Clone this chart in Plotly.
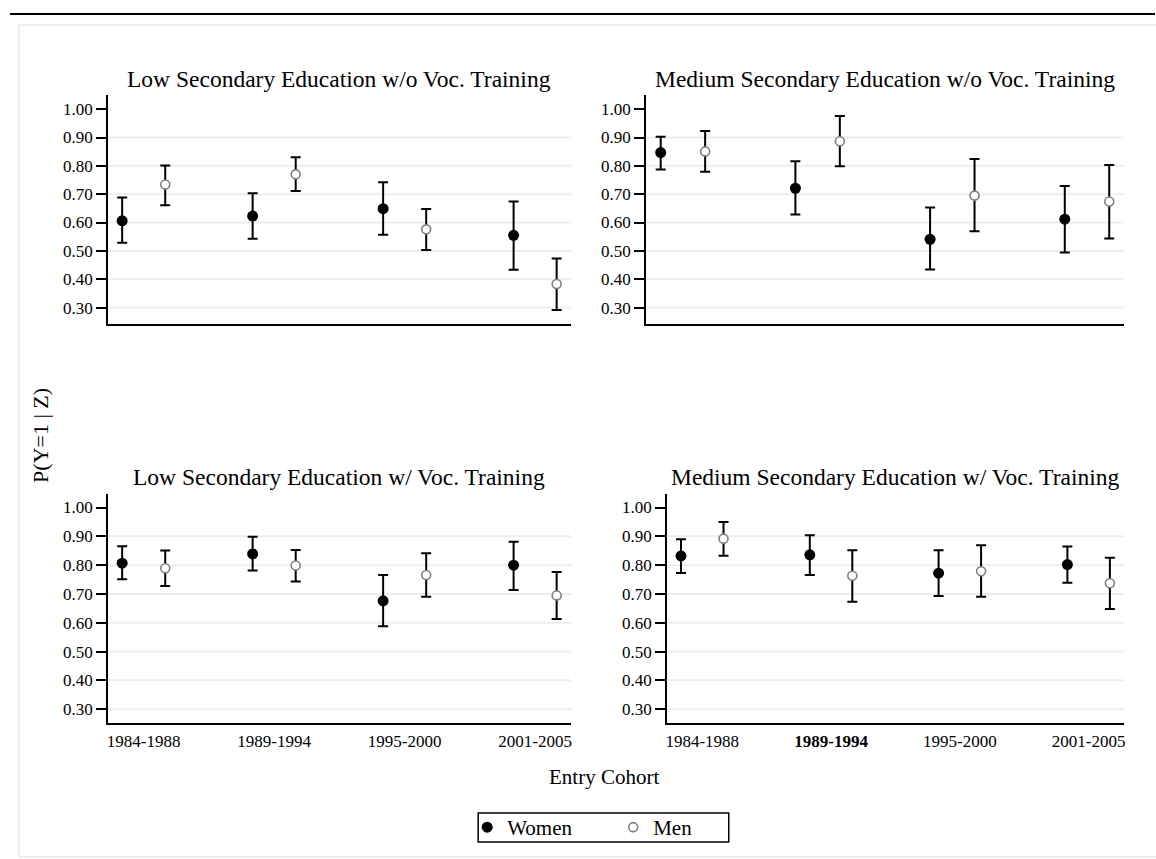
import plotly.graph_objects as go

# ---------------- data ----------------
cohorts = ["1984-1988", "1989-1994", "1995-2000", "2001-2005"]
panel_titles = [
    "Low Secondary Education w/o Voc. Training",
    "Medium Secondary Education w/o Voc. Training",
    "Low Secondary Education w/ Voc. Training",
    "Medium Secondary Education w/ Voc. Training",
]
y_ticks = [0.30, 0.40, 0.50, 0.60, 0.70, 0.80, 0.90, 1.00]
grid_vals = [0.30, 0.40, 0.50, 0.60, 0.70, 0.80, 0.90]

# panel 1: Low secondary w/o voc. training
women_est_1 = [0.606, 0.623, 0.649, 0.555]
women_lo_1 = [0.529, 0.543, 0.557, 0.433]
women_hi_1 = [0.688, 0.703, 0.742, 0.674]
men_est_1 = [0.734, 0.770, 0.576, 0.383]
men_lo_1 = [0.661, 0.711, 0.503, 0.291]
men_hi_1 = [0.801, 0.830, 0.648, 0.473]

# panel 2: Medium secondary w/o voc. training
women_est_2 = [0.847, 0.721, 0.541, 0.612]
women_lo_2 = [0.787, 0.628, 0.434, 0.494]
women_hi_2 = [0.903, 0.816, 0.653, 0.729]
men_est_2 = [0.851, 0.887, 0.695, 0.674]
men_lo_2 = [0.779, 0.799, 0.569, 0.544]
men_hi_2 = [0.923, 0.976, 0.824, 0.803]

# panel 3: Low secondary w/ voc. training
women_est_3 = [0.807, 0.839, 0.676, 0.800]
women_lo_3 = [0.751, 0.781, 0.588, 0.714]
women_hi_3 = [0.866, 0.899, 0.766, 0.881]
men_est_3 = [0.789, 0.799, 0.766, 0.695]
men_lo_3 = [0.728, 0.743, 0.690, 0.613]
men_hi_3 = [0.851, 0.853, 0.841, 0.776]

# panel 4: Medium secondary w/ voc. training
women_est_4 = [0.832, 0.836, 0.772, 0.802]
women_lo_4 = [0.773, 0.766, 0.693, 0.739]
women_hi_4 = [0.890, 0.904, 0.852, 0.865]
men_est_4 = [0.892, 0.763, 0.779, 0.737]
men_lo_4 = [0.833, 0.673, 0.690, 0.648]
men_hi_4 = [0.950, 0.852, 0.869, 0.826]

panels = [
    (women_est_1, women_lo_1, women_hi_1, men_est_1, men_lo_1, men_hi_1),
    (women_est_2, women_lo_2, women_hi_2, men_est_2, men_lo_2, men_hi_2),
    (women_est_3, women_lo_3, women_hi_3, men_est_3, men_lo_3, men_hi_3),
    (women_est_4, women_lo_4, women_hi_4, men_est_4, men_lo_4, men_hi_4),
]

# ---------------- layout geometry ----------------
W, H = 1156, 859
FONT = "Liberation Serif"


def px_x(a, b):
    return [a / W, b / W]


def px_y(top, bottom):
    return [1 - bottom / H, 1 - top / H]


x_domains = [px_x(107, 571), px_x(646, 1125), px_x(107, 571), px_x(667, 1125)]
y_domains = [px_y(95, 324), px_y(95, 324), px_y(494, 723), px_y(494, 723)]
y_ranges = [[0.242, 1.05], [0.242, 1.05], [0.252, 1.047], [0.252, 1.047]]
title_y = [79, 79, 477, 477]
offset = 0.165

fig = go.Figure()
layout = {}
shapes = []
annotations = []

for k in range(4):
    n = k + 1
    xs = "x" if n == 1 else f"x{n}"
    ys = "y" if n == 1 else f"y{n}"
    w_est, w_lo, w_hi, m_est, m_lo, m_hi = panels[k]
    pos = list(range(len(cohorts)))

    fig.add_trace(go.Scatter(
        x=[p - offset for p in pos], y=w_est, mode="markers", name="Women",
        showlegend=(k == 0), legendrank=1,
        marker=dict(symbol="circle", size=11, color="black"),
        error_y=dict(type="data", symmetric=False,
                     array=[h - e for h, e in zip(w_hi, w_est)],
                     arrayminus=[e - l for e, l in zip(w_est, w_lo)],
                     color="black", thickness=2, width=5),
        xaxis=xs, yaxis=ys, cliponaxis=False,
    ))
    fig.add_trace(go.Scatter(
        x=[p + offset for p in pos], y=m_est, mode="markers", name="Men",
        showlegend=(k == 0), legendrank=2,
        marker=dict(symbol="circle", size=9, color="white",
                    line=dict(color="#808080", width=1.6)),
        error_y=dict(type="data", symmetric=False,
                     array=[h - e for h, e in zip(m_hi, m_est)],
                     arrayminus=[e - l for e, l in zip(m_est, m_lo)],
                     color="black", thickness=2, width=5),
        xaxis=xs, yaxis=ys, cliponaxis=False,
    ))

    bottom = k >= 2
    ticktext = list(cohorts)
    if k == 3:
        ticktext[1] = "<b>" + cohorts[1] + "</b>"
    layout["xaxis" if n == 1 else f"xaxis{n}"] = dict(
        domain=x_domains[k], range=[-0.275, len(cohorts) - 1 + 0.275],
        anchor=ys, showgrid=False, zeroline=False,
        showline=True, linecolor="black", linewidth=1.5,
        tickmode="array", tickvals=pos, ticktext=ticktext,
        showticklabels=bottom, ticks="outside", ticklen=2,
        tickcolor="rgba(0,0,0,0)",
        tickfont=dict(family=FONT, size=17, color="black"),
        fixedrange=True,
    )
    layout["yaxis" if n == 1 else f"yaxis{n}"] = dict(
        domain=y_domains[k], range=y_ranges[k], anchor=xs,
        showgrid=False, zeroline=False,
        showline=True, linecolor="black", linewidth=1.5,
        tickmode="array", tickvals=y_ticks,
        ticktext=[f"{v:.2f}" for v in y_ticks],
        ticks="outside", ticklen=10, tickwidth=1.5, tickcolor="black",
        tickfont=dict(family=FONT, size=17, color="black"),
        fixedrange=True,
    )
    for v in grid_vals:
        shapes.append(dict(type="line", xref=f"{xs} domain", yref=ys,
                           x0=0, x1=1, y0=v, y1=v, layer="below",
                           line=dict(color="#e8eff1", width=2)))
    annotations.append(dict(
        text=panel_titles[k], xref="paper", yref="paper",
        x=(x_domains[k][0] + x_domains[k][1]) / 2, y=1 - title_y[k] / H,
        xanchor="center", yanchor="middle", showarrow=False,
        font=dict(family=FONT, size=23.5, color="black"),
    ))

# shared axis titles
annotations.append(dict(
    text="P(Y=1 | Z)", xref="paper", yref="paper", x=39 / W, y=1 - 435 / H,
    textangle=-90, xanchor="center", yanchor="middle", showarrow=False,
    font=dict(family=FONT, size=22, color="black"),
))
annotations.append(dict(
    text="Entry Cohort", xref="paper", yref="paper", x=604 / W, y=1 - 777 / H,
    xanchor="center", yanchor="middle", showarrow=False,
    font=dict(family=FONT, size=21, color="black"),
))

# outer frame (light) and black rule at the top
shapes.append(dict(type="rect", xref="paper", yref="paper",
                   x0=18 / W, x1=1.05, y0=1 - 857 / H, y1=1 - 25 / H,
                   layer="below", line=dict(color="#e4ecee", width=1.5)))
shapes.append(dict(type="line", xref="paper", yref="paper",
                   x0=9 / W, x1=1.0, y0=1 - 14 / H, y1=1 - 14 / H,
                   line=dict(color="black", width=2.2)))
# legend box
shapes.append(dict(type="rect", xref="paper", yref="paper",
                   x0=478 / W, x1=729 / W, y0=1 - 842 / H, y1=1 - 813 / H,
                   line=dict(color="black", width=1.5)))

fig.update_layout(
    width=W, height=H,
    margin=dict(l=0, r=0, t=0, b=0),
    paper_bgcolor="white", plot_bgcolor="white",
    font=dict(family=FONT, color="black"),
    showlegend=True,
    legend=dict(orientation="h", x=467 / W, xanchor="left",
                y=1 - 827.5 / H, yanchor="middle",
                bgcolor="rgba(0,0,0,0)", borderwidth=0,
                entrywidth=101, entrywidthmode="pixels",
                font=dict(family=FONT, size=21, color="black"),
                itemclick=False, itemdoubleclick=False),
    shapes=shapes, annotations=annotations,
    **layout,
)

fig.write_html("out.html",
               config={"displayModeBar": False},
               post_script="document.body.style.margin='0';document.body.style.overflow='hidden';")
